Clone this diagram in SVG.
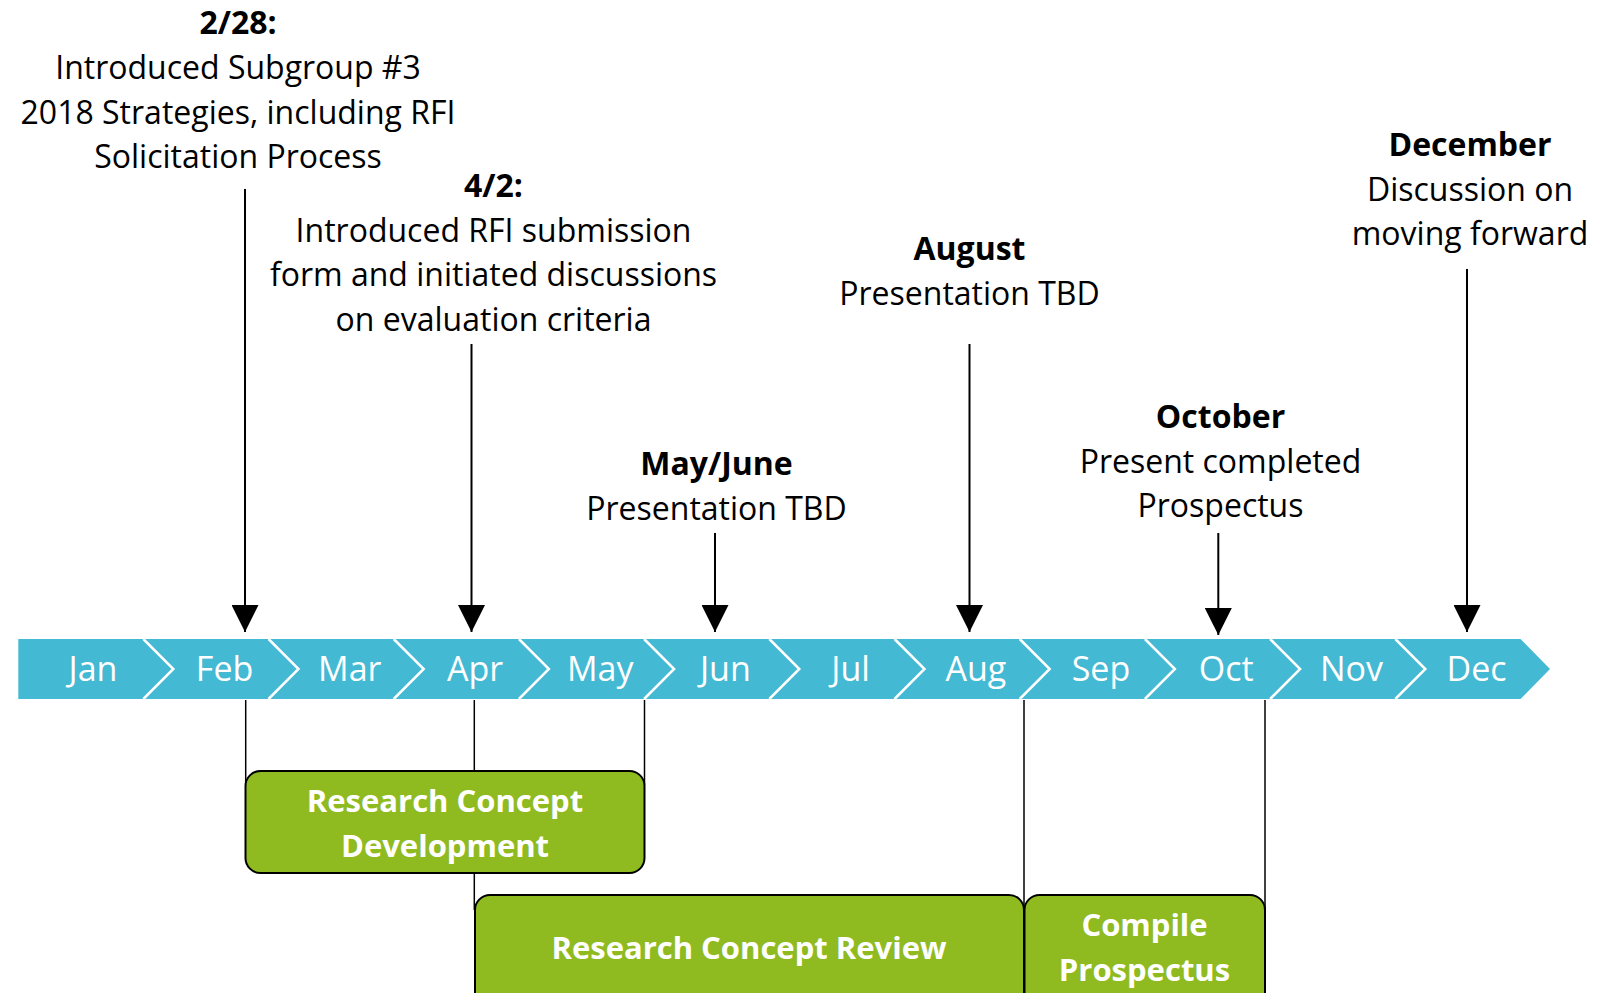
<svg xmlns="http://www.w3.org/2000/svg" width="1619" height="993" viewBox="0 0 1619 993">
  <style>
    .t { font-family: "Open Sans", "Noto Sans", "DejaVu Sans", sans-serif; font-size: 32px; fill: #000; text-anchor: middle; }
    .b { font-weight: bold; font-size: 32px; }
    .m { font-family: "Open Sans", "Noto Sans", "DejaVu Sans", sans-serif; font-size: 34px; fill: #fff; text-anchor: middle; }
    .bx { fill: #8FBB21; stroke: #000; stroke-width: 2; }
    .bt { font-family: "Open Sans", "Noto Sans", "DejaVu Sans", sans-serif; font-size: 31px; font-weight: bold; fill: #fff; text-anchor: middle; }
    .arr { stroke: #000; stroke-width: 2; fill: none; marker-end: url(#ah); }
    .vl { stroke: #000; stroke-width: 1.5; fill: none; }
    .ch { stroke: #fff; stroke-width: 2.5; fill: none; }
  </style>
  <defs>
    <marker id="ah" markerUnits="userSpaceOnUse" markerWidth="27" markerHeight="27" viewBox="0 0 27 27" refX="27" refY="13.5" orient="auto">
      <path d="M0,0 L27,13.5 L0,27 z" fill="#000"/>
    </marker>
  </defs>
  <rect width="1619" height="993" fill="#fff"/>

  <g id="timeline">
    <path d="M18.3,639 L1520.5,639 L1550,669 L1520.5,699 L18.3,699 z" fill="#43B9D3"/>
    <g id="chevrons">
      <polyline class="ch" points="143.3,639 173.3,669 143.3,699"/>
      <polyline class="ch" points="268.5,639 298.5,669 268.5,699"/>
      <polyline class="ch" points="393.7,639 423.7,669 393.7,699"/>
      <polyline class="ch" points="518.9,639 548.9,669 518.9,699"/>
      <polyline class="ch" points="644.1,639 674.1,669 644.1,699"/>
      <polyline class="ch" points="769.3,639 799.3,669 769.3,699"/>
      <polyline class="ch" points="894.5,639 924.5,669 894.5,699"/>
      <polyline class="ch" points="1019.7,639 1049.7,669 1019.7,699"/>
      <polyline class="ch" points="1144.9,639 1174.9,669 1144.9,699"/>
      <polyline class="ch" points="1270.1,639 1300.1,669 1270.1,699"/>
      <polyline class="ch" points="1395.3,639 1425.3,669 1395.3,699"/>
    </g>
    <g id="month-jan"><text class="m" x="93" y="681">Jan</text></g>
    <g id="month-feb"><text class="m" x="224.6" y="681">Feb</text></g>
    <g id="month-mar"><text class="m" x="349.8" y="681">Mar</text></g>
    <g id="month-apr"><text class="m" x="475" y="681">Apr</text></g>
    <g id="month-may"><text class="m" x="600.2" y="681">May</text></g>
    <g id="month-jun"><text class="m" x="725.4" y="681">Jun</text></g>
    <g id="month-jul"><text class="m" x="850.6" y="681">Jul</text></g>
    <g id="month-aug"><text class="m" x="975.8" y="681">Aug</text></g>
    <g id="month-sep"><text class="m" x="1101" y="681">Sep</text></g>
    <g id="month-oct"><text class="m" x="1226.2" y="681">Oct</text></g>
    <g id="month-nov"><text class="m" x="1351.4" y="681">Nov</text></g>
    <g id="month-dec"><text class="m" x="1476.6" y="681">Dec</text></g>
  </g>

  <g id="connectors">
    <line class="arr" x1="245" y1="189" x2="245" y2="632"/>
    <line class="arr" x1="471.5" y1="344" x2="471.5" y2="632"/>
    <line class="arr" x1="715" y1="533" x2="715" y2="632"/>
    <line class="arr" x1="969.5" y1="344" x2="969.5" y2="632"/>
    <line class="arr" x1="1218.3" y1="533" x2="1218.3" y2="635"/>
    <line class="arr" x1="1467" y1="269" x2="1467" y2="632"/>
    <line class="vl" x1="245.7" y1="700" x2="245.7" y2="785"/>
    <line class="vl" x1="474.3" y1="700" x2="474.3" y2="910"/>
    <line class="vl" x1="644.5" y1="700" x2="644.5" y2="785"/>
    <line class="vl" x1="1024" y1="700" x2="1024" y2="910"/>
    <line class="vl" x1="1265" y1="700" x2="1265" y2="910"/>
  </g>

  <g id="note-feb">
    <text class="t b" x="238" y="34">2/28:</text>
    <text class="t" x="238" y="79">Introduced Subgroup #3</text>
    <text class="t" x="238" y="123.5">2018 Strategies, including RFI</text>
    <text class="t" x="238" y="168">Solicitation Process</text>
  </g>
  <g id="note-apr">
    <text class="t b" x="493.5" y="197">4/2:</text>
    <text class="t" x="493.5" y="241.5">Introduced RFI submission</text>
    <text class="t" x="493.5" y="286">form and initiated discussions</text>
    <text class="t" x="493.5" y="330.5">on evaluation criteria</text>
  </g>
  <g id="note-mayjune">
    <text class="t b" x="716.5" y="475">May/June</text>
    <text class="t" x="716.5" y="519.5">Presentation TBD</text>
  </g>
  <g id="note-aug">
    <text class="t b" x="969.5" y="260">August</text>
    <text class="t" x="969.5" y="304.5">Presentation TBD</text>
  </g>
  <g id="note-oct">
    <text class="t b" x="1220.5" y="428">October</text>
    <text class="t" x="1220.5" y="472.5">Present completed</text>
    <text class="t" x="1220.5" y="517">Prospectus</text>
  </g>
  <g id="note-dec">
    <text class="t b" x="1470" y="156">December</text>
    <text class="t" x="1470" y="200.5">Discussion on</text>
    <text class="t" x="1470" y="245">moving forward</text>
  </g>

  <g id="box-rcd">
    <rect class="bx" x="245.5" y="771" width="399" height="102" rx="15"/>
    <text class="bt" x="445" y="812">Research Concept</text>
    <text class="bt" x="445" y="857">Development</text>
  </g>
  <g id="box-rcr">
    <rect class="bx" x="475" y="895" width="549" height="120" rx="15"/>
    <text class="bt" x="749" y="959">Research Concept Review</text>
  </g>
  <g id="box-compile">
    <rect class="bx" x="1024.5" y="895" width="240.5" height="120" rx="15"/>
    <text class="bt" x="1144.5" y="936">Compile</text>
    <text class="bt" x="1144.5" y="981">Prospectus</text>
  </g>
</svg>
